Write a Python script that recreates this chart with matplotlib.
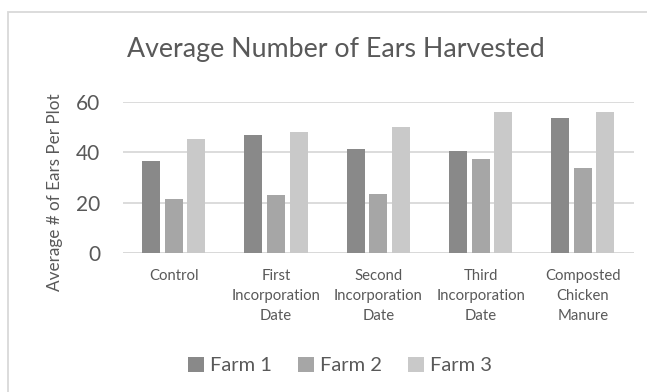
import matplotlib
matplotlib.use("Agg")
import matplotlib.pyplot as plt
from matplotlib.patches import Rectangle
import numpy as np

categories = ["Control", "First\nIncorporation\nDate", "Second\nIncorporation\nDate",
              "Third\nIncorporation\nDate", "Composted\nChicken\nManure"]
series_names = ["Farm 1", "Farm 2", "Farm 3"]
farm1 = [36.6, 46.7, 41.2, 40.3, 53.4]
farm2 = [21.5, 23.0, 23.3, 37.3, 33.7]
farm3 = [45.1, 48.1, 50.1, 55.9, 55.9]
y_ticks = [0, 20, 40, 60]

colors = ["#898989", "#A6A6A6", "#C9C9C9"]
text_color = "#595959"
grid_color = "#D9D9D9"

plt.rcParams["font.family"] = ["Lato", "DejaVu Sans"]

W, H, DPI = 647, 392, 100
fig = plt.figure(figsize=(W / DPI, H / DPI), dpi=DPI)

# chart frame
fig.patches.append(Rectangle((8 / W, -0.1), 1.2, 1 - 12 / H + 0.1,
                             transform=fig.transFigure, fill=False,
                             edgecolor=grid_color, linewidth=1.3))

ax = fig.add_axes([122.7 / W, 1 - 253 / H, (634 - 122.7) / W, (253 - 101.7) / H])

x = np.arange(len(categories))
bw = 0.176
off = 0.221
for i, (vals, name, c) in enumerate(zip([farm1, farm2, farm3], series_names, colors)):
    ax.bar(x + (i - 1) * off, vals, width=bw, color=c, label=name, zorder=3)

ax.set_xlim(-0.5, len(categories) - 0.5)
ax.set_ylim(0, 60)
ax.set_yticks(y_ticks)
ax.yaxis.grid(True, color=grid_color, linewidth=1.3, zorder=0)
ax.set_axisbelow(True)
for s in ["top", "right", "left", "bottom"]:
    ax.spines[s].set_visible(False)
ax.axhline(0, color=grid_color, linewidth=1.3, zorder=1)

ax.tick_params(axis="y", length=0, pad=16, labelsize=15, labelcolor=text_color)
ax.tick_params(axis="x", length=0, pad=11.5, labelsize=10.7, labelcolor=text_color)
ax.set_xticks(x)
ax.set_xticklabels(categories, linespacing=1.55)
for lbl in ax.get_xticklabels():
    lbl.set_verticalalignment("top")
    lbl.set_horizontalalignment("center")

fig.text(55 / W, 1 - 192 / H, "Average # of Ears Per Plot", rotation=90,
         ha="center", va="center", fontsize=12.3, color=text_color)

fig.text(336 / W, 1 - 50 / H, "Average Number of Ears Harvested",
         ha="center", va="center", fontsize=19.3, color=text_color)

leg = fig.legend(loc="center", bbox_to_anchor=(340 / W, 1 - 365.5 / H), ncol=3,
                 frameon=False, fontsize=14.5, handlelength=0.8, handleheight=0.8,
                 handletextpad=0.3, columnspacing=1.3, labelcolor=text_color)

fig.savefig("out.png", dpi=DPI, facecolor="white")
